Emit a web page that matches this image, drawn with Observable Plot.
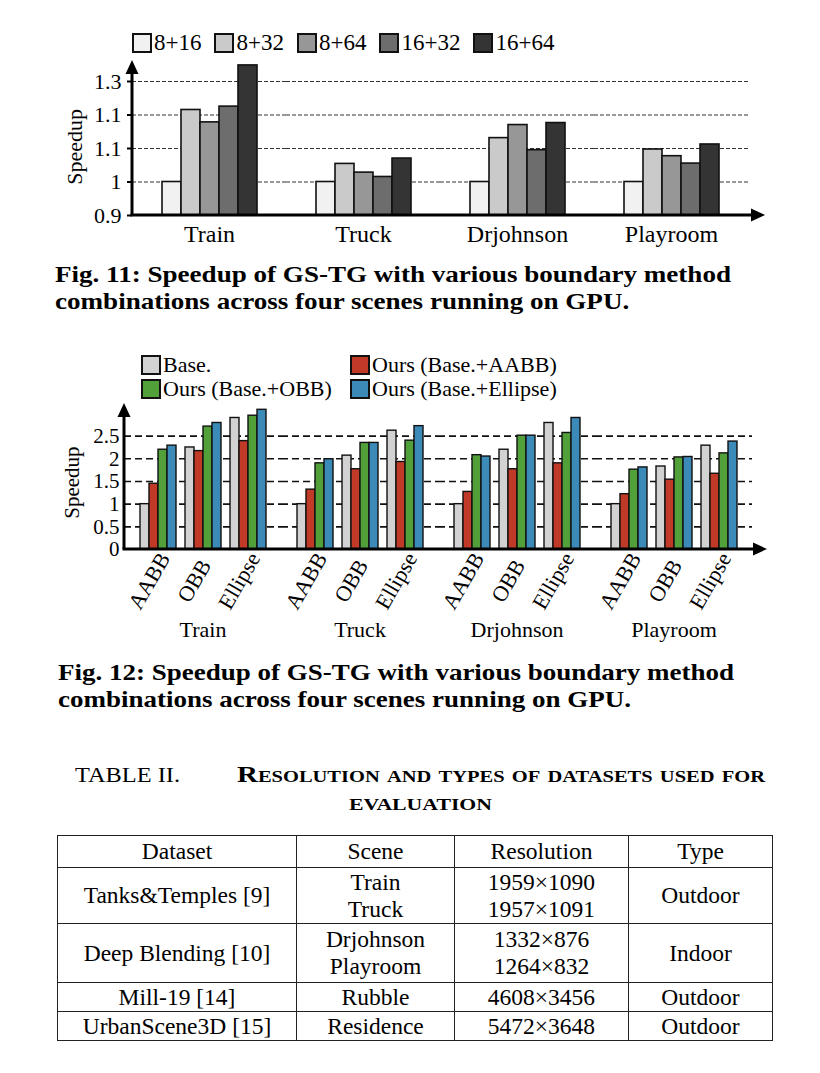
<!DOCTYPE html>
<html>
<head>
<meta charset="utf-8">
<script src="https://cdn.jsdelivr.net/npm/d3@7"></script>
<script src="https://cdn.jsdelivr.net/npm/@observablehq/plot@0.6"></script>
<style>
  html, body { margin: 0; padding: 0; background: #fff; }
  #page { position: relative; width: 820px; height: 1073px; overflow: hidden;
          font-family: "Liberation Serif", "Times New Roman", serif; color: #000; }
  #page * { font-family: "Liberation Serif", "Times New Roman", serif; }
  .abs { position: absolute; }
  .legend1 { display: flex; align-items: center; font-size: 23px; line-height: 20px; }
  .legend1 .item { display: flex; align-items: center; margin-right: 13px; }
  .sw { display: inline-block; box-sizing: border-box; border: 2px solid #111; margin-right: 2px; }
  .legend2 { display: grid; grid-template-columns: 209px auto; row-gap: 4px; font-size: 22px; line-height: 20px; }
  .legend2 .item { display: flex; align-items: center; }
  .capline { font-weight: bold; font-size: 24px; line-height: 27px; white-space: nowrap; transform-origin: 0 0; }
  table.t2 { border-collapse: collapse; font-size: 23.5px; line-height: 27px; }
  table.t2 td { border: 1.6px solid #222; text-align: center; vertical-align: middle; padding: 0; white-space: nowrap; }
  svg { overflow: visible; }
</style>
</head>
<body>
<div id="page"></div>
<script>
// ---------------- Data: Fig. 11 ----------------
const scenes = ["Train", "Truck", "Drjohnson", "Playroom"];
const combos = ["8+16", "8+32", "8+64", "16+32", "16+64"];
const comboColors = ["#f1f1f1", "#cacaca", "#979797", "#6d6d6d", "#343434"];
const fig11Train = [1.0, 1.215, 1.178, 1.225, 1.348];
const fig11Truck = [1.0, 1.054, 1.028, 1.015, 1.07];
const fig11Drjohnson = [1.0, 1.131, 1.17, 1.095, 1.176];
const fig11Playroom = [1.0, 1.097, 1.077, 1.055, 1.112];
const fig11Ticks = [0.9, 1.0, 1.1, 1.2, 1.3];
const fig11TickLabels = ["0.9", "1", "1.1", "1.1", "1.3"];
const fig11Grid = [1.0, 1.1, 1.2, 1.3];
const fig11YDomain = [0.9, 1.31];
const fig11ArrowTop = 1.363;

// ---------------- Data: Fig. 12 ----------------
const methods = ["AABB", "OBB", "Ellipse"];
const series12 = ["Base.", "Ours (Base.+AABB)", "Ours (Base.+OBB)", "Ours (Base.+Ellipse)"];
const series12Colors = ["#d2d2d2", "#c03a27", "#52a03a", "#3b8ab8"];
// rows: AABB, OBB, Ellipse ; columns: series12 order
const fig12Train = [[1.0, 1.45, 2.20, 2.29], [2.25, 2.17, 2.71, 2.79], [2.90, 2.39, 2.95, 3.08]];
const fig12Truck = [[1.0, 1.32, 1.90, 1.99], [2.07, 1.77, 2.35, 2.35], [2.62, 1.93, 2.40, 2.72]];
const fig12Drjohnson = [[1.0, 1.27, 2.08, 2.05], [2.20, 1.77, 2.51, 2.51], [2.79, 1.90, 2.57, 2.90]];
const fig12Playroom = [[1.0, 1.22, 1.76, 1.81], [1.83, 1.54, 2.03, 2.04], [2.29, 1.67, 2.12, 2.38]];
const fig12Ticks = [0, 0.5, 1, 1.5, 2, 2.5];
const fig12TickLabels = ["0", "0.5", "1", "1.5", "2", "2.5"];
const fig12Grid = [0.5, 1, 1.5, 2, 2.5];
const fig12YDomain = [0, 2.95];
const fig12ArrowTop = 3.22;

// ---------------- Text ----------------
const caption11 = ["Fig. 11: Speedup of GS-TG with various boundary method", "combinations across four scenes running on GPU."];
const caption12 = ["Fig. 12: Speedup of GS-TG with various boundary method", "combinations across four scenes running on GPU."];
const tableLabel = "TABLE II.";
const tableTitle = ["Resolution and types of datasets used for", "evaluation"];

// ---------------- Data: Table II ----------------
const tableHeader = ["Dataset", "Scene", "Resolution", "Type"];
const tableDataset = ["Tanks&Temples [9]", "Deep Blending [10]", "Mill-19 [14]", "UrbanScene3D [15]"];
const tableScenes = [["Train", "Truck"], ["Drjohnson", "Playroom"], ["Rubble"], ["Residence"]];
const tableResolution = [["1959×1090", "1957×1091"], ["1332×876", "1264×832"], ["4608×3456"], ["5472×3648"]];
const tableType = ["Outdoor", "Indoor", "Outdoor", "Outdoor"];

const page = document.getElementById("page");
const FONT = "'Liberation Serif', 'Times New Roman', serif";

function place(el, left, top) {
  el.classList.add("abs");
  el.style.left = left + "px";
  el.style.top = top + "px";
  page.appendChild(el);
  return el;
}
// stretch a text element horizontally so that it spans the given width
function fit(el, target) {
  const w = el.getBoundingClientRect().width;
  const k = target / w;
  el.style.transformOrigin = "0 0";
  el.style.transform = `scaleX(${k})`;
  return k;
}
function textDiv(text, cls, styles) {
  const d = document.createElement("div");
  if (cls) d.className = cls;
  d.textContent = text;
  d.style.whiteSpace = "nowrap";
  d.style.display = "inline-block";
  Object.assign(d.style, styles || {});
  return d;
}

// Axis arrows drawn on top of a Plot, positioned with the plot's own y scale
function addArrows(svgNode, xLeft, xRight, yBaseValue, yTopValue, lw) {
  const ys = svgNode.scale("y");
  const yb = ys.apply(yBaseValue), yt = ys.apply(yTopValue);
  const g = d3.select(svgNode).append("g");
  g.append("line").attr("x1", xLeft - lw / 2).attr("x2", xRight - 10).attr("y1", yb).attr("y2", yb)
    .attr("stroke", "#000").attr("stroke-width", lw);
  g.append("path").attr("d", `M${xRight},${yb}L${xRight - 14},${yb - 6.5}L${xRight - 14},${yb + 6.5}Z`).attr("fill", "#000");
  g.append("line").attr("x1", xLeft).attr("x2", xLeft).attr("y1", yb).attr("y2", yt + 10)
    .attr("stroke", "#000").attr("stroke-width", lw);
  g.append("path").attr("d", `M${xLeft},${yt}L${xLeft - 6.5},${yt + 14}L${xLeft + 6.5},${yt + 14}Z`).attr("fill", "#000");
}

// ---------------- Fig. 11 legend ----------------
{
  const lg = document.createElement("div");
  lg.className = "legend1";
  combos.forEach((c, i) => {
    const it = document.createElement("div");
    it.className = "item";
    const sw = document.createElement("span");
    sw.className = "sw"; sw.style.width = "20px"; sw.style.height = "20px"; sw.style.background = comboColors[i];
    const tx = document.createElement("span"); tx.textContent = c;
    it.appendChild(sw); it.appendChild(tx); lg.appendChild(it);
  });
  place(lg, 132, 33);
}

// ---------------- Fig. 11 chart ----------------
{
  const vals = [fig11Train, fig11Truck, fig11Drjohnson, fig11Playroom];
  const data = [];
  scenes.forEach((s, si) => combos.forEach((c, ci) => data.push({scene: s, combo: c, value: vals[si][ci]})));
  const W = 820, ML = 132, MR = 72, H = 260, MB = 45;
  const frameH = (fig11YDomain[1] - fig11YDomain[0]) * 335;
  const MT = H - MB - frameH;
  const plot = Plot.plot({
    width: W, height: H, marginLeft: ML, marginRight: MR, marginTop: MT, marginBottom: MB,
    style: {fontFamily: FONT, fontSize: "21px", color: "#000", background: "transparent", overflow: "visible"},
    fx: {domain: scenes, padding: 0, label: null},
    x: {domain: combos, paddingInner: 0, paddingOuter: 1.48, axis: null},
    y: {domain: fig11YDomain, axis: null},
    color: {domain: combos, range: comboColors},
    marks: [
      Plot.ruleY(fig11Grid, {stroke: "#333", strokeWidth: 1.2, strokeDasharray: "4,2"}),
      Plot.barY(data, {fx: "scene", x: "combo", y1: () => fig11YDomain[0], y2: "value", fill: "combo",
        stroke: "#111", strokeWidth: 1.6}),
      Plot.axisFx({anchor: "bottom", tickSize: 0, tickPadding: 9, fontSize: 24, fontFamily: FONT, label: null}),
      Plot.axisY({ticks: fig11Ticks, tickFormat: d => fig11TickLabels[fig11Ticks.indexOf(d)],
        tickSize: 5, tickPadding: 6, strokeWidth: 2, fontSize: 22, fontFamily: FONT,
        label: "Speedup", labelAnchor: "center", labelOffset: 66, labelArrow: false})
    ]
  });
  place(plot, 0, 0);
  addArrows(plot, ML, 765, fig11YDomain[0], fig11ArrowTop, 3);
}

// ---------------- Fig. 11 caption ----------------
{
  const l1 = place(textDiv(caption11[0], "capline"), 55, 261);
  const k = fit(l1, 676);
  const l2 = place(textDiv(caption11[1], "capline"), 55, 288);
  l2.style.transformOrigin = "0 0"; l2.style.transform = `scaleX(${k})`;
}

// ---------------- Fig. 12 legend ----------------
{
  const lg = document.createElement("div");
  lg.className = "legend2";
  series12.forEach((s, i) => {
    const it = document.createElement("div");
    it.className = "item";
    const sw = document.createElement("span");
    sw.className = "sw"; sw.style.width = "20px"; sw.style.height = "20px"; sw.style.background = series12Colors[i];
    const tx = document.createElement("span"); tx.textContent = s;
    it.appendChild(sw); it.appendChild(tx); lg.appendChild(it);
  });
  place(lg, 141, 355);
}

// ---------------- Fig. 12 chart ----------------
{
  const vals = [fig12Train, fig12Truck, fig12Drjohnson, fig12Playroom];
  const slotKeys = [];
  methods.forEach((m, mi) => {
    if (mi > 0) slotKeys.push("gap" + mi);
    series12.forEach(s => slotKeys.push(m + "|" + s));
  });
  const data = [];
  scenes.forEach((sc, si) => methods.forEach((m, mi) => series12.forEach((s, k) =>
    data.push({scene: sc, key: m + "|" + s, series: s, value: vals[si][mi][k]}))));
  const labels = [];
  scenes.forEach(sc => methods.forEach(m => labels.push({scene: sc, key: m + "|" + series12[1], method: m})));

  const W = 820, ML = 124, MR = 68, H = 260, MB = 101, PO = 1.6;
  const frameH = (fig12YDomain[1] - fig12YDomain[0]) * 45.35;
  const MT = H - MB - frameH;
  const facetW = (W - ML - MR) / scenes.length;
  const slot = facetW / (slotKeys.length + 2 * PO);
  const plot = Plot.plot({
    width: W, height: H, marginLeft: ML, marginRight: MR, marginTop: MT, marginBottom: MB,
    style: {fontFamily: FONT, fontSize: "20px", color: "#000", background: "transparent", overflow: "visible"},
    fx: {domain: scenes, padding: 0, label: null},
    x: {domain: slotKeys, paddingInner: 0, paddingOuter: PO, axis: null},
    y: {domain: fig12YDomain, axis: null},
    color: {domain: series12, range: series12Colors},
    marks: [
      Plot.ruleY(fig12Grid, {stroke: "#111", strokeWidth: 1.6, strokeDasharray: "7,4"}),
      Plot.barY(data, {fx: "scene", x: "key", y1: () => fig12YDomain[0], y2: "value", fill: "series",
        stroke: "#111", strokeWidth: 1.4}),
      Plot.text(labels, {fx: "scene", x: "key", text: "method", frameAnchor: "bottom", dx: slot / 2 - 3, dy: 35,
        rotate: -60, fontSize: 22, fontFamily: FONT}),
      Plot.axisFx({anchor: "bottom", tickSize: 0, tickPadding: 72, fontSize: 22, fontFamily: FONT, label: null}),
      Plot.axisY({ticks: fig12Ticks, tickFormat: d => fig12TickLabels[fig12Ticks.indexOf(d)],
        tickSize: 0, tickPadding: 5, fontSize: 21, fontFamily: FONT,
        label: "Speedup", labelAnchor: "center", labelOffset: 60, labelArrow: false})
    ]
  });
  place(plot, 0, 390);
  addArrows(plot, ML, 767, fig12YDomain[0], fig12ArrowTop, 3);
}

// ---------------- Fig. 12 caption ----------------
{
  const l1 = place(textDiv(caption12[0], "capline"), 58, 659);
  const k = fit(l1, 676);
  const l2 = place(textDiv(caption12[1], "capline"), 58, 686);
  l2.style.transformOrigin = "0 0"; l2.style.transform = `scaleX(${k})`;
}

// ---------------- Table II ----------------
{
  const t1 = place(textDiv(tableLabel, null, {fontSize: "22px"}), 75, 762);
  fit(t1, 105);
  const t2 = place(textDiv(tableTitle[0], null, {fontSize: "24px", fontWeight: "bold", fontVariant: "small-caps"}), 237, 761);
  fit(t2, 528);
  const t3 = place(textDiv(tableTitle[1], null, {fontSize: "24px", fontWeight: "bold", fontVariant: "small-caps"}), 349, 789);
  fit(t3, 143);

  const tbl = document.createElement("table");
  tbl.className = "t2";
  const colW = [238, 157, 173, 143];
  const rowH = [32, 56, 59, 29, 29];
  const hr = tbl.insertRow();
  hr.style.height = rowH[0] + "px";
  tableHeader.forEach((h, i) => { const td = hr.insertCell(); td.textContent = h; td.style.width = colW[i] + "px"; });
  tableDataset.forEach((d, r) => {
    const tr = tbl.insertRow();
    tr.style.height = rowH[r + 1] + "px";
    const cells = [[d], tableScenes[r], tableResolution[r], [tableType[r]]];
    cells.forEach(lines => {
      const td = tr.insertCell();
      td.innerHTML = lines.map(s => s.replace(/&/g, "&amp;")).join("<br>");
    });
  });
  place(tbl, 57, 835);
}
</script>
</body>
</html>
